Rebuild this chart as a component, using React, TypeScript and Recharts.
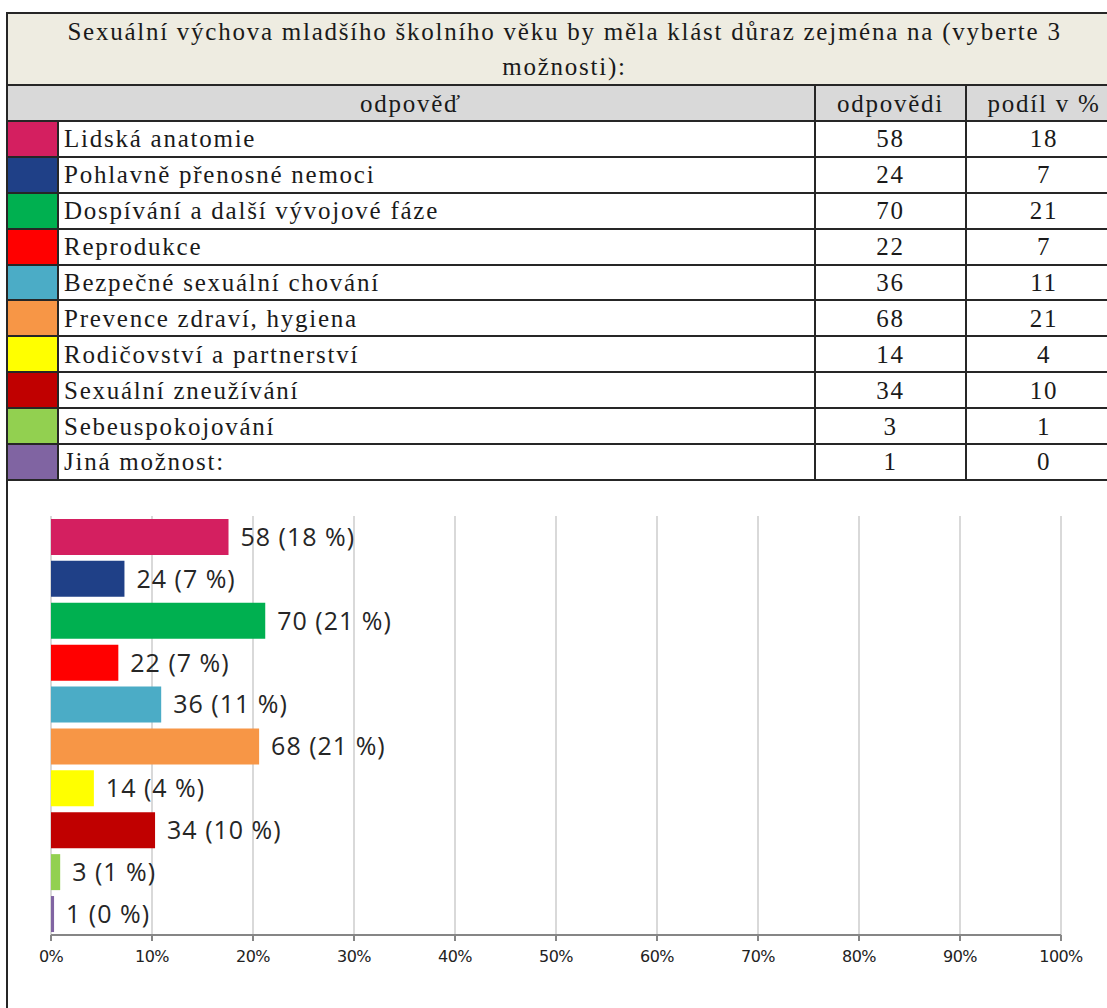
import React from "react";
import { BarChart, Bar, XAxis, YAxis, CartesianGrid, Cell, LabelList } from "recharts";

const title = "Sexuální výchova mladšího školního věku by měla klást důraz zejména na (vyberte 3";
const titleEnd = "možnosti):";
const headers = ["odpověď", "odpovědi", "podíl v %"];

const categories = [
  "Lidská anatomie",
  "Pohlavně přenosné nemoci",
  "Dospívání a další vývojové fáze",
  "Reprodukce",
  "Bezpečné sexuální chování",
  "Prevence zdraví, hygiena",
  "Rodičovství a partnerství",
  "Sexuální zneužívání",
  "Sebeuspokojování",
  "Jiná možnost:",
];
const counts = [58, 24, 70, 22, 36, 68, 14, 34, 3, 1];
const shares = [18, 7, 21, 7, 11, 21, 4, 10, 1, 0];
const colors = [
  "#D41F60",
  "#1F4087",
  "#00B050",
  "#FF0000",
  "#4BACC6",
  "#F79646",
  "#FFFF00",
  "#C00000",
  "#92D050",
  "#8064A2",
];
const xTicks = [0, 0.1, 0.2, 0.3, 0.4, 0.5, 0.6, 0.7, 0.8, 0.9, 1];

const total = counts.reduce((a, b) => a + b, 0);
const data = categories.map((name, i) => ({
  name,
  share: counts[i] / total,
  label: `${counts[i]} (${shares[i]} %)`,
}));

const BORDER = "2px solid #262626";
const serif = "'Times New Roman', 'Liberation Serif', serif";

const cell: React.CSSProperties = {
  border: BORDER,
  padding: 0,
  fontFamily: serif,
  fontSize: 25,
  letterSpacing: 1.75,
  color: "#1a1a1a",
  height: 33.9,
  lineHeight: "33px",
  whiteSpace: "nowrap",
  boxSizing: "border-box",
};

function ResultsTable() {
  return (
    <table
      style={{
        position: "absolute",
        left: 6,
        top: 12,
        width: 1117,
        borderCollapse: "collapse",
        tableLayout: "fixed",
      }}
    >
      <colgroup>
        <col style={{ width: 51 }} />
        <col style={{ width: 757 }} />
        <col style={{ width: 151 }} />
        <col style={{ width: 156 }} />
      </colgroup>
      <tbody>
        <tr style={{ height: 72 }}>
          <td
            colSpan={4}
            style={{
              ...cell,
              background: "#EEECE1",
              textAlign: "center",
              height: 72,
              lineHeight: "35px",
            }}
          >
            {title}
            <br />
            {titleEnd}
          </td>
        </tr>
        <tr style={{ height: 36 }}>
          <td colSpan={2} style={{ ...cell, height: 36, background: "#D9D9D9", textAlign: "center" }}>
            {headers[0]}
          </td>
          <td style={{ ...cell, height: 36, background: "#D9D9D9", textAlign: "center" }}>{headers[1]}</td>
          <td style={{ ...cell, height: 36, background: "#D9D9D9", textAlign: "center" }}>{headers[2]}</td>
        </tr>
        {categories.map((name, i) => (
          <tr key={name} style={{ height: 35.9 }}>
            <td style={{ ...cell, background: colors[i] }} />
            <td style={{ ...cell, paddingLeft: 5 }}>{name}</td>
            <td style={{ ...cell, textAlign: "center" }}>{counts[i]}</td>
            <td style={{ ...cell, textAlign: "center" }}>{shares[i]}</td>
          </tr>
        ))}
      </tbody>
    </table>
  );
}

export default function App() {
  return (
    <div
      style={{
        position: "absolute",
        left: 0,
        top: 0,
        width: 1107,
        height: 1008,
        overflow: "hidden",
        background: "#fff",
      }}
    >
      <ResultsTable />
      <div
        style={{
          position: "absolute",
          left: 6,
          top: 479,
          width: 2,
          height: 529,
          background: "#262626",
        }}
      />
      <div style={{ position: "absolute", left: 0, top: 480 }}>
        <BarChart
          width={1107}
          height={528}
          data={data}
          layout="vertical"
          margin={{ top: 36, right: 46, bottom: 43, left: 51 }}
          barCategoryGap="7%"
        >
          <CartesianGrid horizontal={false} stroke="#D9D9D9" strokeWidth={2} />
          <XAxis
            type="number"
            domain={[0, 1]}
            ticks={xTicks}
            interval={0}
            tickFormatter={(v: number) => `${Math.round(v * 100)}%`}
            axisLine={{ stroke: "#868686", strokeWidth: 2 }}
            tickLine={{ stroke: "#868686", strokeWidth: 2 }}
            tickSize={6}
            tickMargin={10}
            height={30}
            tick={{ fill: "#222222", fontSize: 16, fontFamily: "'DejaVu Sans', Verdana, sans-serif", letterSpacing: -0.6 }}
          />
          <YAxis type="category" dataKey="name" hide />
          <Bar dataKey="share" isAnimationActive={false}>
            {data.map((d, i) => (
              <Cell key={d.name} fill={colors[i]} />
            ))}
            <LabelList
              dataKey="label"
              position="right"
              offset={12}
              style={{ fill: "#262626", fontSize: 25, letterSpacing: 1, fontFamily: "'Open Sans', sans-serif" }}
            />
          </Bar>
        </BarChart>
      </div>
    </div>
  );
}
